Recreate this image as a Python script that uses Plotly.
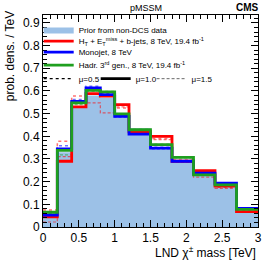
import plotly.graph_objects as go

edges = [0, 0.2, 0.4, 0.6, 0.8, 1.0, 1.2, 1.5, 1.8, 2.1, 2.4, 2.7, 3.0]
prior = [0.05, 0.33, 0.525, 0.58, 0.57, 0.49, 0.435, 0.35, 0.29, 0.23, 0.18, 0.07]

red_mu05 = [0.075, 0.378, 0.578, 0.600, 0.585, 0.525, 0.425, 0.390, 0.295, 0.242, 0.175, 0.072]
red_mu10 = [0.045, 0.290, 0.530, 0.588, 0.577, 0.540, 0.420, 0.400, 0.290, 0.248, 0.180, 0.068]
red_mu15 = [0.022, 0.310, 0.550, 0.547, 0.503, 0.530, 0.420, 0.385, 0.285, 0.220, 0.170, 0.065]

blue_mu05 = [0.058, 0.358, 0.562, 0.621, 0.590, 0.492, 0.412, 0.352, 0.292, 0.240, 0.190, 0.080]
blue_mu10 = [0.053, 0.345, 0.554, 0.614, 0.584, 0.488, 0.410, 0.348, 0.290, 0.237, 0.193, 0.082]
blue_mu15 = [0.050, 0.340, 0.550, 0.608, 0.580, 0.485, 0.408, 0.345, 0.288, 0.234, 0.190, 0.080]

green_mu05 = [0.066, 0.342, 0.550, 0.605, 0.598, 0.500, 0.430, 0.365, 0.308, 0.232, 0.187, 0.078]
green_mu10 = [0.065, 0.338, 0.547, 0.603, 0.596, 0.499, 0.429, 0.363, 0.307, 0.230, 0.186, 0.078]
green_mu15 = [0.062, 0.318, 0.540, 0.600, 0.594, 0.497, 0.428, 0.360, 0.305, 0.228, 0.185, 0.077]

names = {
    "prior": "Prior from non-DCS data",
    "red": "H<sub>T</sub> + E<sub>T</sub><sup>miss</sup> + b-jets, 8 TeV, 19.4 fb<sup>-1</sup>",
    "blue": "Monojet, 8 TeV",
    "green": "Hadr. 3<sup>rd</sup> gen., 8 TeV, 19.4 fb<sup>-1</sup>",
}
mu_labels = ["μ=0.5", "μ=1.0", "μ=1.5"]

FONT = "Liberation Sans, Arial, sans-serif"
fig = go.Figure()


def step(vals):
    return list(vals) + [vals[-1]]


fig.add_trace(go.Scatter(x=edges, y=step(prior), mode="lines", line_shape="hv",
                         line=dict(width=0, color="#9cc1e7"), fill="tozeroy",
                         fillcolor="#9cc1e7", name=names["prior"], legend="legend"))

colors = {"red": "#ff0000", "blue": "#0000ff", "green": "#1f9f1f"}
series = {
    "red": (red_mu05, red_mu10, red_mu15),
    "blue": (blue_mu05, blue_mu10, blue_mu15),
    "green": (green_mu05, green_mu10, green_mu15),
}
legend_of = {"red": "legend2", "blue": "legend3", "green": "legend4"}
for key in ["red", "blue", "green"]:
    v05, v10, v15 = series[key]
    fig.add_trace(go.Scatter(x=edges, y=step(v05), mode="lines", line_shape="hv",
                             line=dict(width=1.5, color=colors[key], dash="dot"),
                             opacity=0.55, showlegend=False))
    fig.add_trace(go.Scatter(x=edges, y=step(v15), mode="lines", line_shape="hv",
                             line=dict(width=1.2, color=colors[key], dash="3px,2px"),
                             opacity=0.55, showlegend=False))
for key in ["red", "blue", "green"]:
    v05, v10, v15 = series[key]
    fig.add_trace(go.Scatter(x=edges, y=step(v10), mode="lines", line_shape="hv",
                             line=dict(width=2.8, color=colors[key]),
                             name=names[key], legend=legend_of[key]))

dashes = ["dot", "solid", "3px,2px"]
widths = [1.2, 2.8, 1.0]
ops = [1.0, 1.0, 0.6]
mu_legends = ["legend5", "legend6", "legend7"]
for lab, d, w, o, lg in zip(mu_labels, dashes, widths, ops, mu_legends):
    fig.add_trace(go.Scatter(x=[None], y=[None], mode="lines",
                             line=dict(color="black", dash=d, width=w), opacity=o,
                             name=lab, legend=lg))

axis_common = dict(showline=True, linecolor="black", linewidth=1, mirror="ticks",
                   ticks="inside", ticklen=7, tickcolor="black", showgrid=False,
                   zeroline=False, tickfont=dict(family=FONT, size=12, color="black"))
fig.update_xaxes(range=[0, 3], dtick=0.5, tickformat="~g",
                 minor=dict(ticks="inside", ticklen=4, dtick=0.1, tickcolor="black"),
                 **axis_common)
fig.update_yaxes(range=[0, 0.935], dtick=0.1, tickformat="~g",
                 minor=dict(ticks="inside", ticklen=4, dtick=0.02, tickcolor="black"),
                 **axis_common)

leg_x = -0.02
leg_common = dict(xanchor="left", yanchor="top", font=dict(family=FONT, size=8),
                  bgcolor="rgba(0,0,0,0)", itemwidth=30)
fig.update_layout(
    width=274, height=263,
    margin=dict(l=43, r=14, t=15, b=36),
    plot_bgcolor="white", paper_bgcolor="white",
    font=dict(family=FONT, color="black"),
    legend=dict(x=leg_x, y=1.0, **leg_common),
    legend2=dict(x=leg_x, y=0.945, **leg_common),
    legend3=dict(x=leg_x, y=0.893, **leg_common),
    legend4=dict(x=leg_x, y=0.832, **leg_common),
    legend5=dict(x=leg_x, y=0.768, **leg_common),
    legend6=dict(x=0.245, y=0.768, **leg_common),
    legend7=dict(x=0.505, y=0.768, **leg_common),
    annotations=[
        dict(text="pMSSM", x=0.48, y=1.0, xref="paper", yref="paper", xanchor="center",
             yanchor="bottom", showarrow=False, font=dict(family=FONT, size=9)),
        dict(text="<b>CMS</b>", x=1.015, y=1.0, xref="paper", yref="paper", xanchor="right",
             yanchor="bottom", showarrow=False, font=dict(family=FONT, size=10)),
        dict(text="LND χ<sup>±</sup> mass [TeV]", x=1.0, y=-0.07, xref="paper", yref="paper",
             xanchor="right", yanchor="top", showarrow=False, font=dict(family=FONT, size=12)),
        dict(text="prob. dens. / TeV", x=-0.195, y=1.03, xref="paper", yref="paper",
             xanchor="left", yanchor="top", textangle=-90, showarrow=False,
             font=dict(family=FONT, size=12)),
    ],
)

fig.write_html("out.html", config={"displayModeBar": False},
               post_script="document.body.style.margin='0';document.body.style.overflow='hidden';")
